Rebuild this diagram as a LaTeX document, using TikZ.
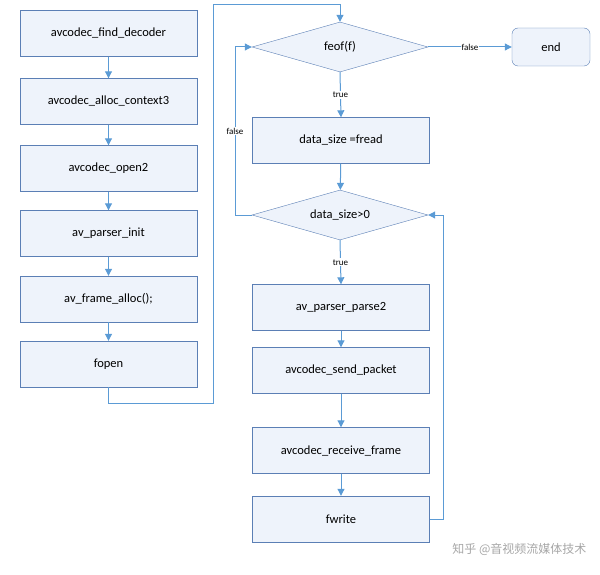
\documentclass[tikz,border=0pt]{standalone}
\usepackage{fontspec}
\setmainfont{Carlito}
\newfontfamily\cjk{Noto Sans CJK SC}
\usetikzlibrary{arrows.meta,shapes.geometric}
\definecolor{bd}{HTML}{5B7FB5}
\definecolor{ar}{HTML}{5B9BD5}
\definecolor{fl}{HTML}{EEF3FB}
\begin{document}
\begin{tikzpicture}[x=1pt,y=-1pt,
  box/.style={draw=bd,fill=fl,minimum width=177pt,minimum height=46pt,font=\fontsize{12.5}{14}\selectfont,inner sep=0pt},
  dia/.style={diamond,aspect=3.5,draw=bd,fill=fl,minimum width=176pt,minimum height=50pt,inner sep=0pt,font=\fontsize{12.5}{14}\selectfont},
  arr/.style={draw=ar,line width=1pt,-{Triangle[length=7pt,width=7pt]}},
  lab/.style={font=\fontsize{9}{10}\selectfont,fill=white,inner sep=1pt}]
\useasboundingbox (0,0) rectangle (600,575);
\node[box] (a1) at (108.5,33.5) {avcodec\_find\_decoder};
\node[box] (a2) at (108.5,101.5) {avcodec\_alloc\_context3};
\node[box] (a3) at (108.5,168.5) {avcodec\_open2};
\node[box] (a4) at (108.5,233.5) {av\_parser\_init};
\node[box] (a5) at (108.5,299) {av\_frame\_alloc();};
\node[box] (a6) at (108.5,364) {fopen};
\node[dia] (f) at (340,47) {feof(f)};
\node[box,rounded corners=6pt,minimum width=78pt,minimum height=38pt] (e) at (551,47) {end};
\node[box] (d) at (341,140.5) {data\_size =fread};
\node[dia] (g) at (340,215) {data\_size>0};
\node[box] (b1) at (341,307.5) {av\_parser\_parse2};
\node[box] (b2) at (341,370.5) {avcodec\_send\_packet};
\node[box] (b3) at (341,450.5) {avcodec\_receive\_frame};
\node[box] (b4) at (341,519) {fwrite};
\foreach \p/\q in {a1/a2,a2/a3,a3/a4,a4/a5,a5/a6,d/g,b1/b2,b2/b3,b3/b4}
  \draw[arr] (\p) -- (\q);
\coordinate (c1) at (108.5,403);
\draw[arr] (a6.south) -- (c1) -| (213,5) -| (f.north);
\draw[arr] (f.east) -- node[lab]{false} (e.west);
\draw[arr] (f.south) -- node[lab]{true} (d.north);
\draw[arr] (g.south) -- node[lab]{true} (b1.north);
\draw[arr] (g.west) -| node[lab,pos=0.75]{false} (235,47) -- (f.west);
\draw[arr] (b4.east) -| (443,215) -- (g.east);
\node[text=gray!70,font=\cjk\fontsize{12}{13}\selectfont,anchor=east] (w) at (590,549) {知乎 @音视频流媒体技术};
\end{tikzpicture}
\end{document}
